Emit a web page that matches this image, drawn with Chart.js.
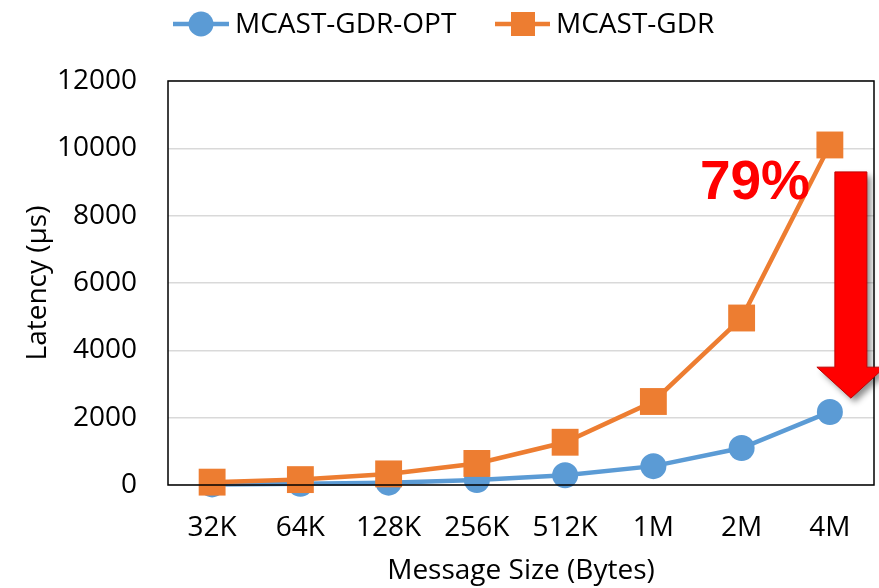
<!DOCTYPE html>
<html>
<head>
<meta charset="utf-8">
<script src="https://cdn.jsdelivr.net/npm/chart.js@4"></script>
<style>
  html, body { margin: 0; padding: 0; background: #fff; overflow: hidden; }
  #wrap { width: 879px; height: 588px; position: relative; }
  canvas { display: block; }
</style>
</head>
<body>
<div id="wrap"><canvas id="chart"></canvas></div>
<script>
// ===== DATOS =====
const sizes = ['32K', '64K', '128K', '256K', '512K', '1M', '2M', '4M'];
const gdrOpt = [17, 35, 70, 150, 290, 560, 1100, 2170];
const gdr = [85, 160, 330, 640, 1270, 2480, 4960, 10100];
const yTicks = [0, 2000, 4000, 6000, 8000, 10000, 12000];

const BLUE = '#5b9bd5';
const ORANGE = '#ed7d31';
const FONT = '"Open Sans", Lato, sans-serif';

// leyenda, marco del área y anotación 79% + flecha
const extras = {
    id: 'extras',
    afterDatasetsDraw(chart) {
        const { ctx, chartArea: a, scales: { x, y } } = chart;
        ctx.save();
        // marco negro del área de trazado
        ctx.strokeStyle = '#000';
        ctx.lineWidth = 1.5;
        ctx.strokeRect(a.left, a.top, a.right - a.left, a.bottom - a.top);

        // texto 79%
        const xl = x.getPixelForValue(sizes.length - 1);
        ctx.fillStyle = '#ff0000';
        ctx.font = 'bold 55px "Liberation Sans", Arial, sans-serif';
        ctx.textAlign = 'left';
        ctx.textBaseline = 'alphabetic';
        ctx.fillText('79%', xl - 130, y.getPixelForValue(8500));

        // flecha hacia abajo con sombra
        const cx = xl + 21;
        const top = y.getPixelForValue(9300);
        const neck = y.getPixelForValue(3500);
        const tip = y.getPixelForValue(2580);
        ctx.beginPath();
        ctx.moveTo(cx - 16, top);
        ctx.lineTo(cx + 16, top);
        ctx.lineTo(cx + 16, neck);
        ctx.lineTo(cx + 34, neck);
        ctx.lineTo(cx, tip);
        ctx.lineTo(cx - 34, neck);
        ctx.lineTo(cx - 16, neck);
        ctx.closePath();
        ctx.shadowColor = 'rgba(0,0,0,0.45)';
        ctx.shadowBlur = 6;
        ctx.shadowOffsetX = 4;
        ctx.shadowOffsetY = 4;
        ctx.fillStyle = '#ff0000';
        ctx.fill();
        ctx.shadowColor = 'transparent';
        ctx.strokeStyle = '#c00000';
        ctx.lineWidth = 1;
        ctx.stroke();
        ctx.restore();
    },
    afterDraw(chart) {
        const ctx = chart.ctx;
        ctx.save();
        const ly = 24;
        ctx.lineWidth = 4.5;
        // MCAST-GDR-OPT
        ctx.strokeStyle = BLUE;
        ctx.beginPath(); ctx.moveTo(173, ly); ctx.lineTo(229, ly); ctx.stroke();
        ctx.fillStyle = BLUE;
        ctx.beginPath(); ctx.arc(201, ly, 12.5, 0, Math.PI * 2); ctx.fill();
        // MCAST-GDR
        ctx.strokeStyle = ORANGE;
        ctx.beginPath(); ctx.moveTo(495, ly); ctx.lineTo(550, ly); ctx.stroke();
        ctx.fillStyle = ORANGE;
        ctx.fillRect(523 - 12, ly - 12, 24, 24);

        ctx.fillStyle = '#000';
        ctx.font = '28px ' + FONT;
        ctx.textBaseline = 'middle';
        ctx.textAlign = 'left';
        ctx.fillText('MCAST-GDR-OPT', 235, ly + 1);
        ctx.fillText('MCAST-GDR', 556, ly + 1);
        ctx.restore();
    }
};

new Chart(document.getElementById('chart'), {
    type: 'line',
    data: {
        labels: sizes,
        datasets: [
            { label: 'MCAST-GDR-OPT', data: gdrOpt, borderColor: BLUE, backgroundColor: BLUE,
              borderWidth: 4.5, pointStyle: 'circle', pointRadius: 13, pointHoverRadius: 13,
              pointBorderWidth: 0, tension: 0, clip: false, order: 1 },
            { label: 'MCAST-GDR', data: gdr, borderColor: ORANGE, backgroundColor: ORANGE,
              borderWidth: 4.5, pointStyle: 'rect', pointRadius: 19, pointHoverRadius: 19,
              pointBorderWidth: 0, tension: 0, clip: false, order: 0 }
        ]
    },
    options: {
        responsive: true,
        maintainAspectRatio: false,
        animation: false,
        layout: { autoPadding: false, padding: { left: 0, right: 5, top: 81, bottom: 0 } },
        plugins: { legend: { display: false }, tooltip: { enabled: false } },
        scales: {
            x: {
                offset: true,
                grid: { display: false, offset: true },
                border: { display: false },
                ticks: { color: '#000', font: { family: FONT, size: 28 }, padding: 18 },
                title: { display: true, text: 'Message Size (Bytes)', color: '#000',
                         font: { family: FONT, size: 28 }, padding: { top: 0, bottom: 0 } },
                afterFit(s) { s.height = 103; s.paddingLeft = 0; s.paddingRight = 0; }
            },
            y: {
                min: 0, max: 12000,
                afterBuildTicks(s) { s.ticks = yTicks.map(v => ({ value: v })); },
                grid: { color: '#d9d9d9', lineWidth: 1.5, drawTicks: false },
                border: { display: false },
                ticks: { color: '#000', font: { family: FONT, size: 28 }, padding: 31,
                         callback: v => String(v) },
                title: { display: true, text: 'Latency (µs)', color: '#000',
                         font: { family: FONT, size: 28 }, padding: { top: 21, bottom: 0 } },
                afterFit(s) { s.width = 168; }
            }
        }
    },
    plugins: [extras]
});
</script>
</body>
</html>
